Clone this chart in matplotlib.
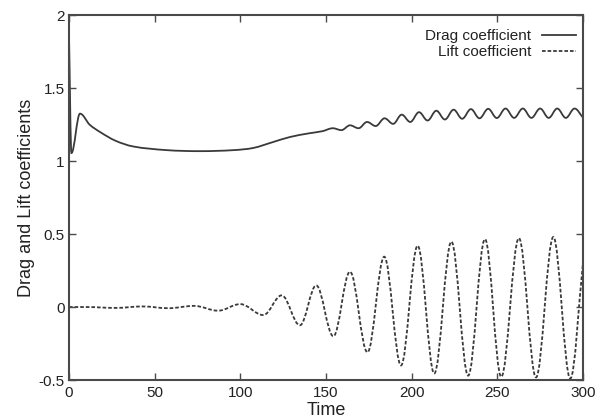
import numpy as np
import matplotlib
matplotlib.use("Agg")
import matplotlib.pyplot as plt
from matplotlib.path import Path
from matplotlib.patches import PathPatch
from matplotlib.lines import Line2D

plt.rcParams['font.family'] = ['Liberation Sans', 'DejaVu Sans']

# values: (time, coefficient) at the turning points of each curve
drag_t = [0, 1.4, 6.4, 12, 18, 27, 37.5, 57, 76.5, 96, 107.6, 119, 129, 140, 148,
          154, 159, 164, 169, 174, 179, 184.2, 189.2, 194.2, 199.2, 204.3, 209.3,
          214.4, 219.4, 224.5, 229.5, 234.6, 239.6, 244.7, 249.7, 254.8, 259.8,
          264.9, 269.9, 275, 280, 285, 290, 295.1, 300]
drag_v = [1.85, 1.055, 1.325, 1.25, 1.20, 1.14, 1.10, 1.075, 1.068, 1.075, 1.09, 1.13, 1.165, 1.19, 1.205,
          1.225, 1.212, 1.245, 1.225, 1.268, 1.24, 1.293, 1.255, 1.318, 1.268, 1.335, 1.278,
          1.345, 1.285, 1.352, 1.29, 1.356, 1.293, 1.358, 1.295, 1.36, 1.296,
          1.36, 1.296, 1.36, 1.296, 1.36, 1.296, 1.36, 1.298]

lift_t = [0, 10, 27, 43, 58, 73, 87, 100, 113.4, 124.1, 134.8, 144.3, 154.3, 164, 174.2,
          184, 193.8, 203.5, 213.2, 223.2, 233, 242.8, 252.3, 262.6, 272.6, 282.7, 292.6, 300]
lift_v = [0.0, 0.0, -0.006, 0.004, -0.008, 0.008, -0.025, 0.02, -0.055, 0.08, -0.125, 0.148, -0.2, 0.242, -0.31,
          0.345, -0.4, 0.42, -0.455, 0.448, -0.47, 0.465, -0.478, 0.472, -0.482, 0.48, -0.49, 0.3]

x_ticks = [0, 50, 100, 150, 200, 250, 300]
y_ticks = [-0.5, 0, 0.5, 1, 1.5, 2]
y_tick_labels = ['-0.5', '0', '0.5', '1', '1.5', '2']

line_col = '#3a3a3a'
frame_col = '#4a4a4a'
text_col = '#222222'


def smooth_path(ts, vs):
    # curve through the read points (flat, rounded at turning points),
    # handed to matplotlib as cubic Beziers
    t = np.asarray(ts, float)
    v = np.asarray(vs, float)
    n = len(t)
    m = np.zeros(n)
    turn = np.zeros(n, bool)
    for i in range(n):
        if i == 0:
            m[i] = (v[1] - v[0]) / (t[1] - t[0])
        elif i == n - 1:
            m[i] = (v[-1] - v[-2]) / (t[-1] - t[-2])
        elif (v[i] - v[i - 1]) * (v[i + 1] - v[i]) <= 0:
            turn[i] = True
        else:
            m[i] = (v[i + 1] - v[i - 1]) / (t[i + 1] - t[i - 1])
    verts = [(t[0], v[0])]
    codes = [Path.MOVETO]
    for i in range(n - 1):
        h = t[i + 1] - t[i]
        a0 = 0.365 if turn[i] else 1 / 3
        a1 = 0.365 if turn[i + 1] else 1 / 3
        verts += [(t[i] + a0 * h, v[i] + m[i] * a0 * h),
                  (t[i + 1] - a1 * h, v[i + 1] - m[i + 1] * a1 * h),
                  (t[i + 1], v[i + 1])]
        codes += [Path.CURVE4] * 3
    return Path(verts, codes)


fig = plt.figure(figsize=(6.13, 4.2), dpi=100)
ax = fig.add_subplot(111)
fig.subplots_adjust(left=0.1126, right=0.951, top=0.964, bottom=0.0952)

dash = (0, (2, 1.1))
ax.add_patch(PathPatch(smooth_path(drag_t, drag_v), fill=False, edgecolor=line_col,
                       lw=1.3, transform=ax.transData))
ax.add_patch(PathPatch(smooth_path(lift_t, lift_v), fill=False, edgecolor=line_col,
                       lw=1.3, linestyle=dash, transform=ax.transData))

ax.set_xlim(0, 300)
ax.set_ylim(-0.5, 2)
ax.set_xticks(x_ticks)
ax.set_xticklabels([str(v) for v in x_ticks])
ax.set_yticks(y_ticks)
ax.set_yticklabels(y_tick_labels)
ax.tick_params(direction='in', length=5, width=1, colors=frame_col, labelcolor=text_col,
               labelsize=11, top=True, right=True)
ax.tick_params(axis='x', pad=4)
ax.tick_params(axis='y', pad=3)
for s in ax.spines.values():
    s.set_color(frame_col)
    s.set_linewidth(1.5)

ax.set_xlabel('Time', fontsize=13, labelpad=1.5, color=text_col)
ax.set_ylabel('Drag and Lift coefficients', fontsize=13, labelpad=3, color=text_col)

handles = [Line2D([], [], color=line_col, lw=1.3),
           Line2D([], [], color=line_col, lw=1.3, linestyle=dash)]
ax.legend(handles, ['Drag coefficient', 'Lift coefficient'], loc='upper right',
          bbox_to_anchor=(0.9864, 0.961), borderaxespad=0, borderpad=0, frameon=False,
          markerfirst=False, handlelength=2.2, handletextpad=0.75, labelspacing=0.1,
          fontsize=11, labelcolor=text_col)

fig.savefig('out.png', dpi=100)
